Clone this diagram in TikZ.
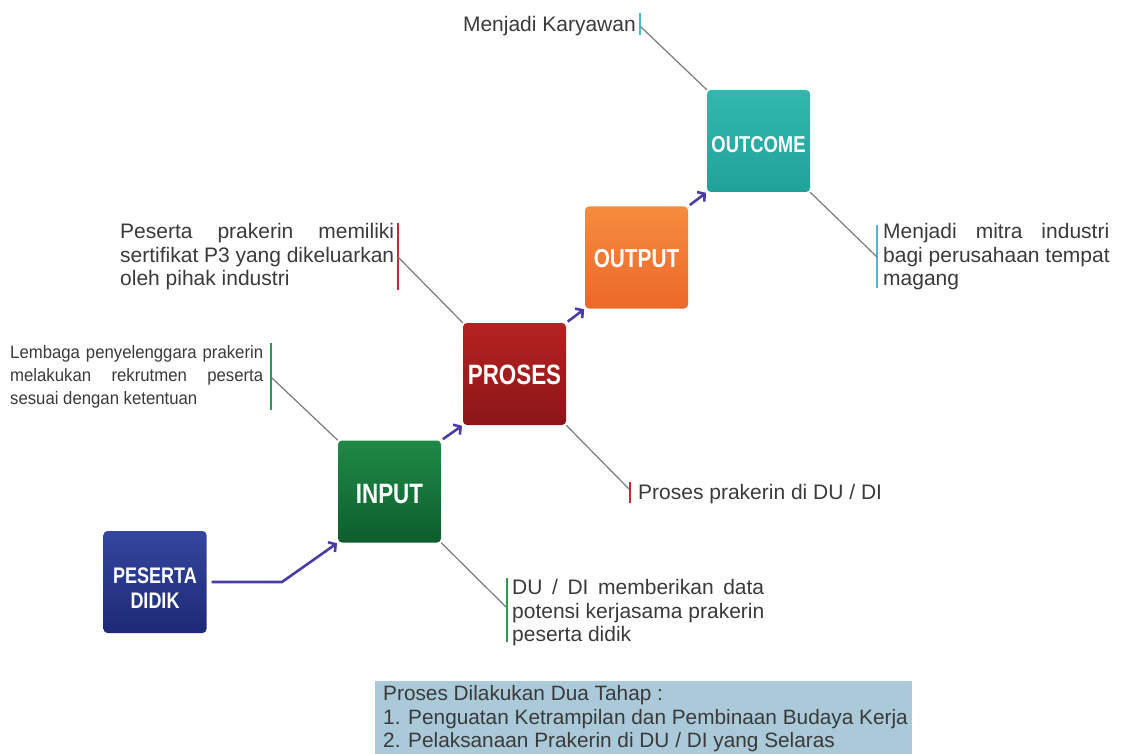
\documentclass[tikz,border=0pt]{standalone}
\usepackage{fontspec}
\setmainfont{Liberation Sans}
\newfontfamily\boxfont[FakeStretch=0.8]{Liberation Sans}
\newfontfamily\narrowfont[FakeStretch=0.93]{Liberation Sans}
\usetikzlibrary{arrows.meta}

\definecolor{txt}{HTML}{3A3A3A}
\definecolor{leadergray}{HTML}{7A7A7A}
\definecolor{flowblue}{HTML}{4A3CA6}
\definecolor{barcyan}{HTML}{4DB8D2}
\definecolor{barred}{HTML}{C2282C}
\definecolor{bargreen}{HTML}{2A9A4C}
\definecolor{notefill}{HTML}{AAC9D9}
\definecolor{blueA}{HTML}{34469E}
\definecolor{blueB}{HTML}{1E2A76}
\definecolor{greenA}{HTML}{1E8A46}
\definecolor{greenB}{HTML}{0E5E2E}
\definecolor{redA}{HTML}{B62222}
\definecolor{redB}{HTML}{8C1618}
\definecolor{orangeA}{HTML}{F68C3E}
\definecolor{orangeB}{HTML}{EC682A}
\definecolor{tealA}{HTML}{32B8B0}
\definecolor{tealB}{HTML}{20A29A}

\begin{document}
\begin{tikzpicture}[x=1pt,y=-1pt,
  stagebox/.style={rounded corners=4pt, minimum width=103pt, minimum height=102pt,
    inner sep=0pt},
  stagetext/.style={text=white, align=center, inner sep=0pt},
  flow/.style={draw=flowblue, line width=2.6pt,
    -{Straight Barb[length=5pt,width=12pt]}},
  leader/.style={draw=leadergray, line width=1.2pt},
  markbar/.style={line width=2.4pt},
  body/.style={text=txt, inner sep=0pt, align=left,
    font=\fontsize{21}{23.5}\selectfont},
  stagefont/.style={font=\boxfont\bfseries\fontsize{#1}{#1}\selectfont}
]
\useasboundingbox (0,0) rectangle (1122,754);

% stage boxes
\node[stagebox, top color=blueA, bottom color=blueB] (peserta) at (155,582) {};
\node[stagebox, top color=greenA, bottom color=greenB] (input) at (389.5,491.5) {};
\node[stagebox, top color=redA, bottom color=redB] (proses) at (514.5,374) {};
\node[stagebox, top color=orangeA, bottom color=orangeB] (output) at (636.5,257.5) {};
\node[stagebox, top color=tealA, bottom color=tealB] (outcome) at (758.5,141) {};

% stage labels
\node[stagetext, stagefont=22.5] (pesertaLabel) at ([yshift=-6pt]peserta.center) {PESERTA\\[2pt]DIDIK};
\node[stagetext, stagefont=28] (inputLabel) at ([yshift=-3pt]input.center) {INPUT};
\node[stagetext, stagefont=28] (prosesLabel) at ([yshift=-1pt]proses.center) {PROSES};
\node[stagetext, stagefont=26] (outputLabel) at ([yshift=-1pt]output.center) {OUTPUT};
\node[stagetext, stagefont=23] (outcomeLabel) at ([yshift=-4pt]outcome.center) {OUTCOME};

% flow arrows
\coordinate (bend) at (282,582);
\draw[flow, shorten <=5pt, shorten >=1pt] (peserta.east) -- (bend) -- (input.south west);
\draw[flow, shorten <=2pt, shorten >=1pt] (input.north east) -- (proses.south west);
\draw[flow, shorten <=2pt, shorten >=1pt] (proses.north east) -- (output.south west);
\draw[flow, shorten <=2pt, shorten >=1pt] (output.north east) -- (outcome.south west);

% note: Menjadi Karyawan
\node[body, anchor=base east] (karyawan) at (636,32) {Menjadi Karyawan};
\coordinate (kTop) at (640,13); \coordinate (kBot) at (640,35); \coordinate (kMid) at (641,27);
\draw[markbar, draw=barcyan] (kTop) -- (kBot);
\draw[leader] (kMid) -- (outcome.north west);

% note: Menjadi mitra industri
\node[body, anchor=north west] (mitra) at (883,222.2)
  {\strut\makebox[226pt][s]{Menjadi mitra industri}\\
   bagi perusahaan tempat\\
   magang};
\coordinate (mTop) at (877,225); \coordinate (mBot) at (877,288); \coordinate (mMid) at (877,257);
\draw[markbar, draw=barcyan] (mTop) -- (mBot);
\draw[leader] (outcome.south east) -- (mMid);

% note: sertifikat P3
\node[body, anchor=north west] (sertifikat) at (120,222.2)
  {\strut\makebox[274pt][s]{Peserta prakerin memiliki}\\
   \makebox[274pt][s]{sertifikat P3 yang dikeluarkan}\\
   oleh pihak industri};
\coordinate (sTop) at (398,223); \coordinate (sBot) at (398,290); \coordinate (sMid) at (398,257);
\draw[markbar, draw=barred] (sTop) -- (sBot);
\draw[leader] (sMid) -- (proses.north west);

% note: Proses prakerin
\node[body, anchor=base west] (prakerin) at (638,499) {Proses prakerin di DU / DI};
\coordinate (pTop) at (630,482); \coordinate (pBot) at (630,503); \coordinate (pMid) at (629,489);
\draw[markbar, draw=barred] (pTop) -- (pBot);
\draw[leader] (proses.south east) -- (pMid);

% note: Lembaga penyelenggara
\node[body, anchor=north west, font=\narrowfont\fontsize{18}{23}\selectfont] (lembaga) at (10,341.9)
  {\strut\makebox[253pt][s]{Lembaga penyelenggara prakerin}\\
   \makebox[253pt][s]{melakukan rekrutmen peserta}\\
   sesuai dengan ketentuan};
\coordinate (lTop) at (271,343); \coordinate (lBot) at (271,410); \coordinate (lMid) at (272,378);
\draw[markbar, draw=bargreen] (lTop) -- (lBot);
\draw[leader] (lMid) -- (input.north west);

% note: DU / DI data
\node[body, anchor=north west] (dudi) at (512,578.2)
  {\strut\makebox[252pt][s]{DU / DI memberikan data}\\
   potensi kerjasama prakerin\\
   peserta didik};
\coordinate (dTop) at (507,578); \coordinate (dBot) at (507,642); \coordinate (dMid) at (506,607);
\draw[markbar, draw=bargreen] (dTop) -- (dBot);
\draw[leader] (input.south east) -- (dMid);

% summary box
\node[fill=notefill, anchor=north west, minimum width=537pt, minimum height=74pt,
  inner sep=0pt] (summary) at (375,681) {};
\node[body, anchor=north west, font=\fontsize{20.8}{23.3}\selectfont] (steps) at (383,684.4)
  {\strut Proses Dilakukan Dua Tahap :\\
   1. Penguatan Ketrampilan dan Pembinaan Budaya Kerja\\
   2. Pelaksanaan Prakerin di DU / DI yang Selaras};
\end{tikzpicture}
\end{document}
